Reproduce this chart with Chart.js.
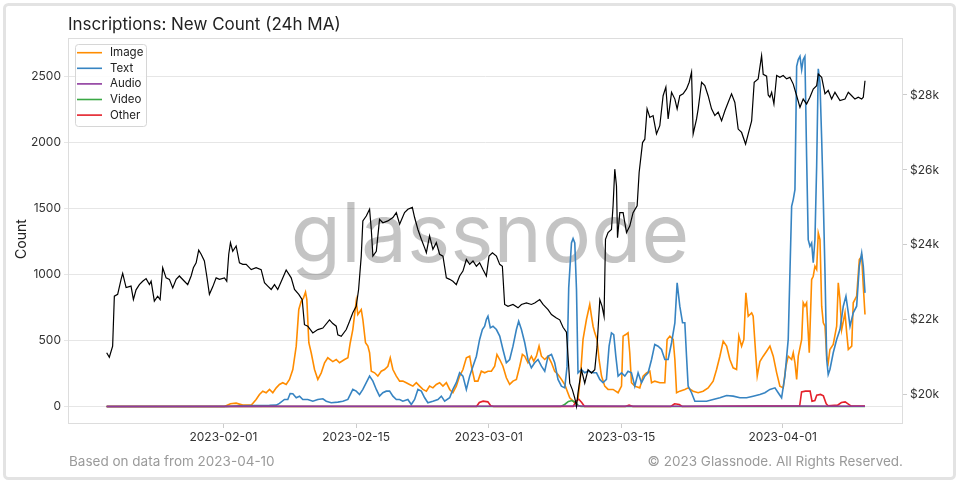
<!DOCTYPE html>
<html>
<head>
<meta charset="utf-8">
<script src="https://cdn.jsdelivr.net/npm/chart.js@4.4.0/dist/chart.umd.min.js"></script>
<style>
  html, body { margin: 0; padding: 0; background: #fff; }
  canvas { display: block; }
</style>
</head>
<body>
<canvas id="chart" width="963" height="490"></canvas>
<script>
// x values are days since 2023-01-01 00:00 UTC (24h moving averages)
const imageDays = [
  18.68, 31.11, 31.74, 32.34, 33.04, 33.93, 34.09, 34.45, 34.80, 35.15,
  35.51, 35.86, 36.21, 36.57, 36.91, 37.26, 37.62, 37.97, 38.32, 38.68,
  38.95, 39.21, 39.45, 39.66, 39.80, 40.01, 40.26, 40.61, 40.96, 41.32,
  41.67, 42.01, 42.54, 42.90, 43.25, 43.78, 44.13, 44.38, 44.65, 45.01,
  45.18, 45.54, 45.71, 45.99, 46.24, 46.42, 46.60, 46.95, 47.29, 47.65,
  48.00, 48.35, 48.60, 48.88, 49.24, 49.59, 49.93, 50.29, 50.64, 50.99,
  51.35, 51.70, 52.05, 52.41, 52.75, 53.10, 53.46, 53.81, 54.16, 54.52,
  54.87, 55.21, 55.57, 55.92, 56.27, 56.63, 56.98, 57.16, 57.51, 57.85,
  58.21, 58.56, 58.91, 59.27, 59.62, 59.86, 60.15, 60.49, 60.85, 61.20,
  61.55, 61.91, 62.26, 62.54, 62.79, 63.13, 63.49, 63.74, 64.02, 64.30,
  64.55, 64.90, 65.25, 65.61, 65.95, 66.30, 66.66, 67.01, 67.54, 68.07,
  68.41, 68.67, 68.94, 69.30, 69.65, 69.83, 70.00, 70.18, 70.42, 70.63,
  70.89, 71.23, 71.58, 72.11, 72.64, 73.00, 73.17, 73.45, 73.69, 73.87,
  74.05, 74.40, 74.93, 75.28, 75.64, 75.99, 76.17, 76.51, 77.04, 77.57,
  77.81, 78.10, 78.45, 78.63, 78.81, 79.15, 79.68, 80.03, 80.56, 81.09,
  81.61, 82.14, 82.67, 83.03, 83.38, 83.73, 84.09, 84.43, 84.78, 85.14,
  85.38, 85.67, 85.91, 86.12, 86.37, 86.73, 86.89, 87.15, 87.32, 87.60,
  87.95, 88.31, 88.66, 89.01, 89.37, 89.71, 90.06, 90.35, 90.59, 90.95,
  91.12, 91.30, 91.48, 91.65, 92.01, 92.17, 92.35, 92.53, 92.81, 93.06,
  93.23, 93.41, 93.59, 93.76, 93.94, 94.12, 94.29, 94.47, 94.65, 94.81,
  94.99, 95.34, 95.70, 95.87, 96.05, 96.23, 96.58, 96.76, 96.93, 97.29,
  97.45, 97.81, 98.09, 98.34, 98.51, 98.69
];
const imageCounts = [
  0, 0, 20, 25, 10, 10, 23, 53, 91, 116,
  104, 129, 104, 141, 167, 180, 167, 205, 280, 457,
  735, 798, 823, 866, 811, 483, 407, 280, 205, 255,
  331, 369, 340, 356, 331, 356, 369, 483, 583, 798,
  697, 735, 659, 483, 457, 407, 267, 255, 230, 267,
  280, 305, 369, 280, 230, 192, 192, 180, 167, 154,
  180, 154, 129, 116, 154, 141, 167, 180, 154, 180,
  129, 104, 154, 230, 280, 369, 381, 305, 192, 192,
  267, 255, 267, 267, 305, 394, 356, 305, 217, 167,
  192, 205, 305, 394, 381, 331, 381, 343, 381, 457,
  381, 356, 381, 331, 267, 242, 205, 165, 66, 28,
  53, 230, 508, 659, 773, 684, 608, 558, 508, 356,
  230, 154, 129, 129, 104, 154, 533, 545, 558, 407,
  180, 154, 141, 230, 255, 267, 180, 192, 180, 180,
  508, 533, 508, 356, 104, 116, 129, 141, 116, 104,
  116, 141, 192, 280, 381, 495, 457, 356, 293, 280,
  533, 457, 508, 861, 684, 710, 684, 407, 230, 340,
  381, 419, 457, 381, 255, 154, 141, 305, 381, 356,
  407, 331, 205, 381, 508, 786, 760, 786, 407, 962,
  987, 1063, 1038, 1316, 1265, 760, 634, 608, 381, 331,
  432, 470, 608, 937, 811, 583, 710, 558, 432, 457,
  786, 836, 1114, 1139, 911, 697
];

const textDays = [
  18.68, 31.30, 32.69, 35.86, 36.57, 36.91, 37.44, 37.79, 38.04, 38.32,
  38.68, 39.03, 39.37, 39.90, 40.43, 40.96, 41.49, 41.85, 42.37, 43.07,
  43.60, 44.13, 44.65, 45.01, 45.36, 45.71, 46.07, 46.42, 46.77, 47.13,
  47.47, 47.82, 48.18, 48.53, 48.88, 49.24, 49.59, 49.93, 50.46, 50.82,
  51.17, 51.52, 51.88, 52.23, 52.57, 53.10, 53.63, 53.99, 54.34, 54.87,
  55.21, 55.57, 55.92, 56.27, 56.63, 56.98, 57.33, 57.69, 58.03, 58.32,
  58.56, 58.74, 58.91, 59.16, 59.44, 59.80, 60.15, 60.49, 60.85, 61.20,
  61.55, 61.91, 62.15, 62.44, 62.79, 63.13, 63.49, 63.84, 64.19, 64.55,
  64.90, 65.25, 65.61, 65.95, 66.30, 66.66, 67.01, 67.25, 67.43, 67.72,
  67.89, 68.07, 68.25, 68.41, 68.77, 69.12, 69.47, 70.00, 70.36, 70.71,
  71.05, 71.41, 71.69, 71.94, 72.18, 72.40, 72.64, 73.00, 73.35, 73.69,
  74.05, 74.40, 74.75, 75.11, 75.46, 75.81, 76.17, 76.51, 76.86, 77.22,
  77.57, 77.92, 78.28, 78.63, 78.87, 79.15, 79.44, 79.68, 79.86, 80.03,
  80.39, 80.74, 81.27, 81.97, 82.67, 83.38, 84.09, 84.78, 85.49, 86.20,
  86.89, 87.60, 88.13, 88.66, 89.19, 89.53, 89.89, 90.24, 90.59, 90.95,
  91.12, 91.30, 91.48, 91.65, 91.83, 92.01, 92.17, 92.35, 92.53, 92.70,
  92.88, 93.06, 93.23, 93.41, 93.59, 93.76, 93.94, 94.12, 94.29, 94.47,
  94.65, 94.81, 94.99, 95.34, 95.70, 96.05, 96.40, 96.68, 96.93, 97.11,
  97.45, 97.81, 98.09, 98.34, 98.51, 98.69
];
const textCounts = [
  0, 0, 5, 8, 10, 23, 53, 53, 98, 96,
  66, 78, 53, 53, 40, 53, 58, 40, 28, 33,
  40, 53, 129, 116, 91, 129, 180, 230, 192, 129,
  78, 104, 116, 116, 78, 53, 53, 40, 53, 15,
  53, 129, 116, 66, 28, 40, 53, 78, 40, 66,
  129, 180, 255, 230, 129, 230, 305, 381, 508, 583,
  608, 659, 684, 596, 608, 583, 533, 432, 331, 356,
  457, 583, 646, 583, 483, 356, 293, 331, 356, 305,
  267, 381, 394, 331, 205, 154, 141, 300, 900, 1240,
  1273, 1240, 886, 255, 280, 255, 267, 255, 255, 205,
  180, 205, 457, 558, 545, 381, 230, 255, 230, 267,
  255, 154, 255, 180, 230, 255, 356, 470, 457, 432,
  356, 356, 483, 634, 937, 760, 634, 634, 381, 154,
  104, 40, 40, 40, 53, 66, 83, 78, 66, 66,
  78, 91, 104, 129, 141, 104, 66, 230, 508, 1517,
  1568, 1644, 2578, 2629, 2654, 2553, 2629, 2654, 1896, 1265,
  1214, 1240, 1089, 1265, 1821, 2560, 2452, 2023, 1568, 1013,
  356, 242, 280, 407, 508, 583, 760, 836, 710, 608,
  710, 760, 1063, 1164, 1063, 861
];

const audioDays = [18.68, 36.9, 45.0, 55.0, 68.0, 80.0, 92.0, 98.69];
const audioCounts = [0, 1, 2, 2, 3, 2, 3, 2];

const videoDays = [18.68, 66.6, 67.0, 67.4, 67.8, 68.1, 68.4, 68.7, 98.69];
const videoCounts = [0, 0, 15, 38, 45, 30, 10, 0, 0];

const otherDays = [
  18.68, 57.7, 58.0, 58.4, 58.9, 59.2, 59.5, 67.9, 68.2, 68.5,
  68.8, 69.1, 73.4, 73.8, 74.2, 78.2, 78.6, 79.1, 79.4, 91.8,
  92.0, 92.4, 92.9, 93.1, 93.4, 93.6, 94.0, 94.3, 94.6, 94.8,
  95.8, 96.2, 96.6, 96.9, 97.2, 98.69
];
const otherCounts = [
  0, 0, 30, 40, 35, 5, 0, 0, 40, 55,
  30, 0, 0, 10, 0, 0, 20, 15, 0, 5,
  110, 116, 116, 40, 45, 85, 91, 80, 20, 5,
  10, 30, 35, 20, 5, 3
];

// BTC price in thousands of USD (right axis)
const priceDays = [
  18.68, 18.96, 19.31, 19.49, 19.84, 20.20, 20.37, 20.73, 21.25, 21.50,
  21.78, 22.13, 22.48, 22.84, 23.19, 23.37, 23.71, 24.06, 24.32, 24.59,
  24.95, 25.30, 25.65, 26.01, 26.35, 26.88, 27.23, 27.59, 27.83, 28.12,
  28.39, 28.65, 28.99, 29.24, 29.52, 29.87, 30.23, 30.58, 31.11, 31.35,
  31.56, 31.74, 31.98, 32.34, 32.69, 33.04, 33.40, 33.93, 34.45, 34.98,
  35.33, 35.68, 36.04, 36.39, 36.73, 37.20, 37.62, 38.15, 38.50, 38.95,
  39.31, 39.55, 39.90, 40.43, 40.96, 41.49, 42.19, 42.54, 42.90, 43.07,
  43.43, 43.96, 44.31, 44.65, 45.01, 45.26, 45.54, 45.71, 46.07, 46.42,
  46.60, 46.77, 47.13, 47.47, 47.82, 48.35, 48.88, 49.24, 49.59, 50.11,
  50.46, 50.93, 51.17, 51.52, 51.88, 52.23, 52.41, 52.75, 53.10, 53.46,
  53.81, 54.16, 54.52, 54.87, 55.21, 55.57, 55.92, 56.27, 56.63, 56.98,
  57.33, 57.69, 58.03, 58.38, 58.74, 59.02, 59.38, 59.80, 60.15, 60.43,
  60.67, 61.02, 61.55, 62.08, 62.44, 62.97, 63.49, 63.84, 64.37, 64.72,
  65.25, 65.61, 66.13, 66.48, 66.83, 67.19, 67.36, 67.54, 67.82, 68.07,
  68.25, 68.41, 68.77, 69.12, 69.47, 69.83, 70.18, 70.42, 70.71, 70.95,
  71.16, 71.31, 71.58, 71.94, 72.11, 72.29, 72.47, 72.58, 72.82, 73.17,
  73.35, 73.53, 73.87, 74.22, 74.65, 74.86, 75.22, 75.46, 75.70, 75.99,
  76.33, 76.69, 77.04, 77.39, 77.68, 77.92, 78.28, 78.63, 78.87, 79.15,
  79.50, 79.86, 80.14, 80.39, 80.56, 80.92, 81.09, 81.45, 81.79, 82.14,
  82.50, 82.85, 83.20, 83.56, 83.91, 84.25, 84.61, 84.96, 85.31, 85.67,
  86.09, 86.37, 86.73, 87.00, 87.42, 87.78, 87.95, 88.31, 88.48, 88.66,
  88.84, 89.08, 89.37, 89.71, 90.06, 90.42, 90.77, 91.12, 91.48, 91.83,
  92.17, 92.53, 92.88, 93.23, 93.59, 93.76, 94.12, 94.47, 94.81, 95.17,
  95.52, 96.05, 96.58, 96.93, 97.29, 97.63, 97.98, 98.34, 98.51, 98.69
];
const priceK = [
  21.12, 21.00, 21.30, 22.63, 22.68, 23.08, 23.24, 22.86, 22.90, 22.54,
  22.80, 22.94, 23.03, 23.10, 22.94, 23.03, 22.50, 22.63, 22.54, 23.39,
  23.12, 23.08, 22.85, 23.08, 23.17, 23.03, 22.94, 23.17, 23.39, 23.52,
  23.86, 23.75, 23.57, 23.17, 22.68, 22.88, 23.12, 23.08, 23.12, 23.03,
  23.75, 24.06, 23.83, 23.97, 23.52, 23.48, 23.48, 23.34, 23.39, 23.34,
  22.99, 22.90, 22.81, 22.94, 22.81, 23.08, 23.33, 23.12, 22.81, 22.68,
  22.54, 21.87, 21.83, 21.65, 21.74, 21.78, 22.00, 21.90, 21.83, 21.60,
  21.56, 21.74, 21.96, 22.19, 22.36, 22.81, 23.70, 24.64, 24.77, 24.95,
  24.41, 23.70, 23.83, 24.68, 24.59, 24.64, 24.73, 24.86, 24.55, 24.86,
  24.95, 25.00, 24.73, 24.41, 24.15, 23.92, 23.79, 24.24, 23.88, 24.06,
  23.75, 23.70, 23.12, 23.08, 23.03, 22.94, 23.17, 23.30, 23.61, 23.48,
  23.57, 23.43, 23.52, 23.34, 23.17, 23.70, 23.79, 23.70, 23.48, 23.43,
  22.41, 22.36, 22.41, 22.32, 22.41, 22.45, 22.41, 22.45, 22.54, 22.41,
  22.27, 22.14, 22.05, 22.00, 21.80, 21.67, 21.02, 20.31, 20.13, 19.91,
  19.69, 20.05, 20.67, 20.31, 20.67, 20.58, 20.67, 21.29, 22.54, 22.36,
  22.09, 24.15, 24.33, 24.41, 25.04, 26.02, 25.57, 24.19, 24.86, 24.86,
  24.59, 24.33, 24.50, 24.86, 25.04, 25.93, 26.73, 26.82, 27.63, 27.40,
  27.45, 26.96, 27.18, 27.98, 28.21, 27.36, 28.07, 27.89, 27.63, 27.98,
  28.03, 28.16, 28.34, 28.61, 26.96, 27.36, 27.63, 28.34, 28.25, 27.98,
  27.63, 27.45, 27.54, 27.31, 27.58, 27.80, 28.03, 27.80, 27.09, 27.00,
  26.69, 26.96, 27.31, 28.34, 28.43, 29.05, 28.55, 28.50, 28.00, 27.94,
  28.07, 27.76, 28.52, 28.47, 28.52, 28.43, 28.47, 28.29, 27.98, 27.67,
  27.89, 27.76, 27.94, 28.16, 28.25, 28.56, 28.47, 28.03, 28.12, 27.89,
  28.07, 27.85, 27.89, 28.07, 27.98, 27.89, 27.94, 27.89, 27.94, 28.38
];

const xTickLabels = ['2023-02-01', '2023-02-15', '2023-03-01', '2023-03-15', '2023-04-01'];
const countTicks = [0, 500, 1000, 1500, 2000, 2500];
const priceTicks = [20, 22, 24, 26, 28];

const FONT = 'Inter, "Open Sans", sans-serif';
const DAY = 86400000;
const EPOCH = Date.UTC(2023, 0, 1);
const toDay = s => (Date.parse(s + 'T00:00:00Z') - EPOCH) / DAY;
const xTickDays = xTickLabels.map(toDay);
const toXY = (days, vals) => days.map((d, i) => ({ x: d, y: vals[i] }));

// lower order is drawn on top; Audio sits on the zero line above the others
const series = [
  { label: 'Image', color: '#ff8c00', days: imageDays, vals: imageCounts, order: 5 },
  { label: 'Text',  color: '#3784c2', days: textDays,  vals: textCounts,  order: 4 },
  { label: 'Audio', color: '#8e3a9e', days: audioDays, vals: audioCounts, order: 1 },
  { label: 'Video', color: '#3aa845', days: videoDays, vals: videoCounts, order: 3 },
  { label: 'Other', color: '#e4202a', days: otherDays, vals: otherCounts, order: 2 }
];

const datasets = series.map(s => ({
  label: s.label,
  data: toXY(s.days, s.vals),
  borderColor: s.color,
  borderWidth: 1.6,
  pointRadius: 0,
  tension: 0,
  order: s.order,
  yAxisID: 'y'
}));
datasets.push({
  label: 'Price',
  data: toXY(priceDays, priceK),
  borderColor: '#000',
  borderWidth: 1.2,
  pointRadius: 0,
  tension: 0,
  order: 0,
  yAxisID: 'y1'
});

const decor = {
  id: 'decor',
  beforeDraw(chart) {
    const c = chart.ctx;
    c.save();
    c.fillStyle = '#fff';
    c.fillRect(0, 0, chart.width, chart.height);
    // outer card frame
    c.strokeStyle = '#e3e3e3';
    c.lineWidth = 3;
    c.beginPath();
    c.roundRect(4.5, 4.5, 950, 474, 4);
    c.stroke();
    // title and footer
    c.textBaseline = 'middle';
    c.fillStyle = '#222';
    c.font = '17px ' + FONT;
    c.fillText('Inscriptions: New Count (24h MA)', 68, 25);
    c.fillStyle = '#9a9a9a';
    c.font = '13.5px ' + FONT;
    c.fillText('Based on data from 2023-04-10', 69, 462);
    c.textAlign = 'right';
    c.fillText('\u00a9 2023 Glassnode. All Rights Reserved.', 903, 462);
    // left axis title
    c.translate(22, 239);
    c.rotate(-Math.PI / 2);
    c.textAlign = 'center';
    c.fillStyle = '#222';
    c.font = '14px ' + FONT;
    c.fillText('Count', 0, 0);
    c.restore();
  },
  beforeDatasetsDraw(chart) {
    const c = chart.ctx;
    c.save();
    c.fillStyle = 'rgba(0,0,0,0.23)';
    c.font = '82px ' + FONT;
    c.textAlign = 'center';
    c.textBaseline = 'alphabetic';
    c.fillText('glassnode', 490, 262);
    c.restore();
  },
  afterDatasetsDraw(chart) {
    const c = chart.ctx;
    const a = chart.chartArea;
    c.save();
    c.strokeStyle = '#dddddd';
    c.lineWidth = 1;
    c.strokeRect(a.left + 0.5, a.top + 0.5, a.right - a.left - 1, a.bottom - a.top - 1);
    // legend
    c.fillStyle = 'rgba(255,255,255,0.85)';
    c.strokeStyle = '#d6d6d6';
    c.beginPath();
    c.roundRect(75.5, 44.5, 71, 82, 3);
    c.fill();
    c.stroke();
    c.font = '11.5px ' + FONT;
    c.textBaseline = 'middle';
    series.forEach((s, i) => {
      const y = 52.7 + i * 15.6;
      c.strokeStyle = s.color;
      c.lineWidth = 1.6;
      c.beginPath();
      c.moveTo(77, y);
      c.lineTo(102, y);
      c.stroke();
      c.fillStyle = '#222';
      c.fillText(s.label, 110, y);
    });
    c.restore();
  }
};

new Chart(document.getElementById('chart'), {
  type: 'line',
  data: { datasets },
  options: {
    responsive: false,
    animation: false,
    parsing: false,
    normalized: true,
    layout: { padding: { top: 38, left: 0, right: 0, bottom: 0 } },
    plugins: { legend: { display: false }, tooltip: { enabled: false } },
    scales: {
      x: {
        type: 'linear',
        min: 14.6,
        max: 102.7,
        afterFit: s => { s.height = 66; },
        afterBuildTicks: s => { s.ticks = xTickDays.map(v => ({ value: v })); },
        ticks: {
          callback: v => xTickLabels[xTickDays.indexOf(v)] || '',
          font: { family: FONT, size: 12 },
          color: '#333',
          maxRotation: 0,
          autoSkip: false,
          padding: 2
        },
        grid: { drawOnChartArea: false, drawTicks: true, tickLength: 4, color: '#cccccc' },
        border: { display: false }
      },
      y: {
        position: 'left',
        min: -133,
        max: 2793,
        afterFit: s => { s.width = 68; },
        afterBuildTicks: s => { s.ticks = countTicks.map(v => ({ value: v })); },
        ticks: {
          callback: v => String(v),
          font: { family: FONT, size: 12 },
          color: '#333',
          padding: 3
        },
        grid: { color: '#e6e6e6', drawTicks: true, tickLength: 4 },
        border: { display: false }
      },
      y1: {
        position: 'right',
        min: 19.22,
        max: 29.52,
        afterFit: s => { s.width = 60; },
        afterBuildTicks: s => { s.ticks = priceTicks.map(v => ({ value: v })); },
        ticks: {
          callback: v => '$' + v + 'k',
          font: { family: FONT, size: 12 },
          color: '#333',
          padding: 3
        },
        grid: { drawOnChartArea: false, drawTicks: true, tickLength: 4, color: '#cccccc' },
        border: { display: false }
      }
    }
  },
  plugins: [decor]
});
</script>
</body>
</html>
